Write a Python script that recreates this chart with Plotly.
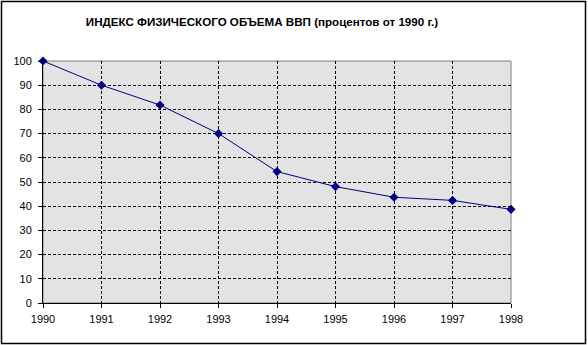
import plotly.graph_objects as go

years = [1990, 1991, 1992, 1993, 1994, 1995, 1996, 1997, 1998]
gdp_index = [100, 90, 81.8, 70, 54.3, 48.1, 43.7, 42.4, 38.7]
title_text = "ИНДЕКС ФИЗИЧЕСКОГО ОБЪЕМА ВВП (процентов от 1990 г.)"

W, H = 588, 345
L, R, T, B = 43, 77, 61, 42
pw, ph = W - L - R, H - T - B

fig = go.Figure()
fig.add_trace(go.Scatter(
    x=years, y=gdp_index, mode="lines+markers",
    line=dict(color="#000080", width=1),
    marker=dict(symbol="diamond", size=7, color="#000080"),
    cliponaxis=False, showlegend=False,
))

font = "Liberation Sans, Arial, sans-serif"
fig.update_layout(
    width=W, height=H,
    margin=dict(l=L, r=R, t=T, b=B),
    paper_bgcolor="white", plot_bgcolor="#E3E3E3",
    font=dict(family=font, size=11, color="black"),
    title=dict(text="<b>" + title_text + "</b>", x=(262 - L) / pw, xref="paper",
               xanchor="center", y=1 - 22 / H, yanchor="middle",
               font=dict(family=font, size=11.6, color="black")),
    xaxis=dict(range=[1990, 1998], tickmode="linear", tick0=1990, dtick=1,
               showgrid=True, gridcolor="black", griddash="3px,2px", gridwidth=1,
               showline=True, linecolor="black", linewidth=1,
               ticks="outside", ticklen=4, tickcolor="black",
               zeroline=False, ticklabelstandoff=2),
    yaxis=dict(range=[0, 100], tickmode="linear", tick0=0, dtick=10,
               showgrid=True, gridcolor="black", griddash="3px,2px", gridwidth=1,
               showline=True, linecolor="black", linewidth=1,
               ticks="outside", ticklen=4, tickcolor="black",
               zeroline=False, ticklabelstandoff=4),
    shapes=[
        dict(type="rect", xref="paper", yref="paper", x0=0, x1=1, y0=0, y1=1,
             line=dict(color="#808080", width=1), layer="below"),
        dict(type="rect", xref="paper", yref="paper",
             x0=(1.5 - L) / pw, x1=(585.5 - L) / pw,
             y0=-(343.5 - (T + ph)) / ph, y1=1 + (T - 1.5) / ph,
             line=dict(color="black", width=1.5), layer="above"),
    ],
)

fig.write_html("out.html")
